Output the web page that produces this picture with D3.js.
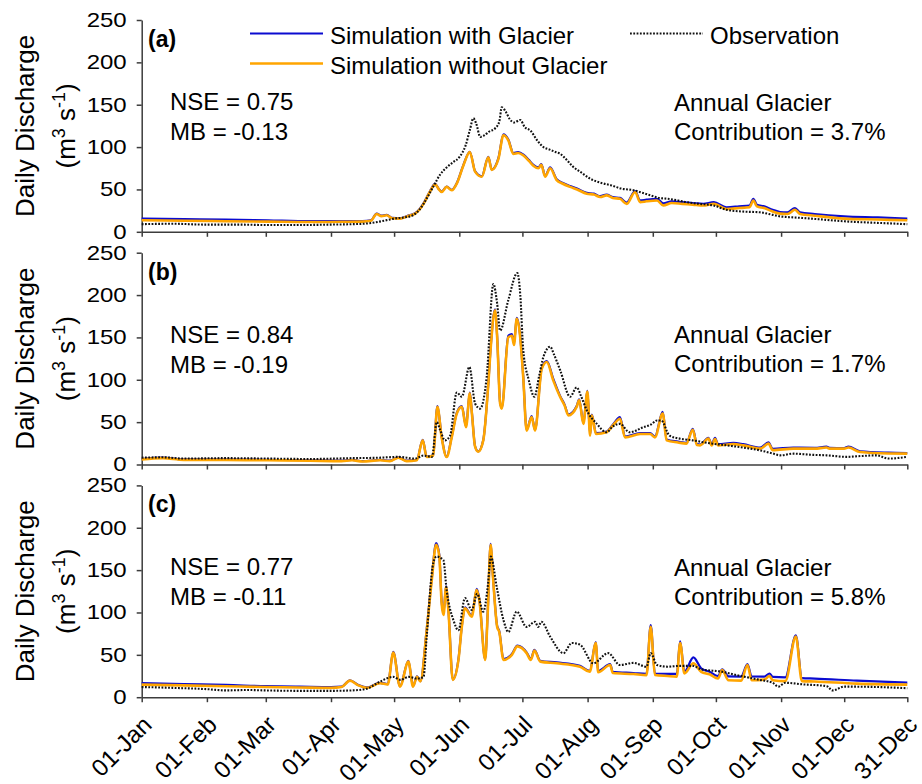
<!DOCTYPE html>
<html>
<head>
<meta charset="utf-8">
<script src="https://cdn.jsdelivr.net/npm/d3@7/dist/d3.min.js"></script>
<style>
body{margin:0;background:#fff}
svg text{font-family:"Liberation Sans",Arial,sans-serif;fill:#000}
</style>
</head>
<body>
<svg id="chart" width="922" height="784"></svg>
<script>
// x = day of year (0 = 01-Jan), y = discharge m3/s
const monthDays=[0,31,59,90,120,151,181,212,243,273,304,334,364]
const monthLabels=['01-Jan','01-Feb','01-Mar','01-Apr','01-May','01-Jun','01-Jul','01-Aug','01-Sep','01-Oct','01-Nov','01-Dec','31-Dec']
const yTicks=[0,50,100,150,200,250]

const panelLabels=['(a)','(b)','(c)']
const nseLabels=['NSE = 0.75','NSE = 0.84','NSE = 0.77']
const mbLabels=['MB = -0.13','MB = -0.19','MB = -0.11']
const contribLabels=['Contribution = 3.7%','Contribution = 1.7%','Contribution = 5.8%']

// panel (a)
const obsA=[[0,9],[15,9.5],[30,8.5],[45,8.5],[60,8],[75,8],[90,8.5],[100,9],[108,10],[113,12],[117,14],[120,15.6],[125,17],[129,19.5],[132,26],[134,33],[137,46],[139,55],[142,68],[145,76],[148,82],[151,88],[154,102],[156,120],[157.7,134],[159,128],[161,112],[163,114],[165,118],[168,122],[170,130],[171.2,147],[173,142],[175,133],[177,129],[180,132],[182,124],[185,119],[188,108],[191,100],[194,97],[197,94],[199,92],[202,85],[205,77],[209,70],[213,63],[218,58],[223,55],[228,51],[234,49],[238,46],[242,43],[246,40],[250,39],[255,37],[259,35],[265,33],[272,31],[278,26],[285,24],[294,23],[300,20],[304,18],[310,17],[318,15.6],[326,14],[334,12.4],[345,11],[355,10],[364,9]]
const simNoGlacierA=[[0,13.6],[20,13],[40,12.5],[60,12],[80,11.5],[95,11.8],[105,12],[109,13],[111.7,21],[114,18.5],[116.5,19.5],[119,16],[123,15.6],[127,19],[130,21.5],[132,26],[134,33],[137,47],[139.5,56],[141,51],[142.6,47],[145,53],[147.4,49],[150,58],[152.9,78],[156,94],[158.5,71],[161.7,65],[164.8,88],[166.4,73],[169.6,86],[172,114],[174.3,108],[176.7,92],[179,93],[181.5,90],[184,84],[186.2,78],[188.6,75],[190,79],[191.8,65],[194.2,75],[197.3,61],[200,57],[203.7,53],[207,50],[211.6,45],[215,44],[218,41],[221,43],[224,40],[227.4,39],[230.6,33],[234.6,47],[237,35],[240,36],[245,37],[248,31],[252,34],[257,33],[262,32],[267,31],[272,33],[278,27],[284,28],[289,29],[290.8,37],[292.5,30],[296,28],[300,24],[303.5,21.5],[307,21],[310.6,26],[313,21],[320,19],[334,15.6],[350,14.5],[364,13.6]]
const simGlacierA=[[0,15.6],[20,15],[40,14.5],[60,13.5],[80,12.5],[95,12.5],[105,12.5],[109,13.5],[111.7,21.5],[114,19],[116.5,20],[119,16.5],[123,16],[127,19.5],[130,22],[132,26.5],[134,33.5],[137,47.5],[139.5,56.5],[141,51.5],[142.6,47.5],[145,53.5],[147.4,49.5],[150,58.5],[152.9,78.5],[156,94.5],[158.5,71.5],[161.7,65.5],[164.8,88.5],[166.4,73.5],[169.6,87],[172,115],[174.3,109],[176.7,93],[179,94],[181.5,91],[184,85],[186.2,79],[188.6,76],[190,80],[191.8,66],[194.2,76],[197.3,62],[200,58],[203.7,54],[207,51],[211.6,46],[215,45],[218,42],[221,44],[224,41],[227.4,40],[230.6,34.5],[234.6,48],[237,37],[240,38],[245,39],[248,33.5],[252,36],[257,35],[262,34],[267,33],[272,35],[278,29],[284,30],[289,31],[290.8,39],[292.5,32],[296,30],[300,26],[303.5,23.4],[307,23],[310.6,28],[313,23],[320,21],[334,18.3],[350,17],[364,15.6]]

// panel (b)
const obsB=[[0,8],[10,8.5],[20,7],[40,7.5],[60,7],[80,6.5],[100,7.5],[113,8],[122,9],[130,7],[134,10.6],[138,9],[140.3,50],[142,40],[144.2,28.5],[146.6,34],[149.8,85],[152.2,80],[155.8,115],[158.5,72],[160.9,66],[164,103],[167.2,213],[169,190],[170.4,158],[174.3,194],[178.6,226],[180,200],[181.4,135],[184,100],[186.7,80],[189,105],[191,127],[194.2,139],[196,130],[199,111],[203.7,80],[206.8,91],[209,80],[211.6,64],[216.4,48],[221,38],[224,45],[227.4,48],[232,38],[238.5,44],[242,47],[245,52],[247,52],[251,34],[256,30.5],[262,28.5],[270,25],[278,22.6],[286,20],[294,16.7],[300,13],[303.5,10.8],[310,12.8],[318,11.5],[325.6,10.8],[335,9],[342,10],[349.5,10.8],[355,7],[364,9]]
const simNoGlacierB=[[0,6],[10,7.5],[20,5.5],[40,5.5],[60,5],[80,4.5],[95,4],[100,5],[105,3.5],[113.3,5],[118,4],[122,8],[126,4],[130.8,5],[133.6,28.5],[135.5,8.8],[138.6,10.6],[140.6,68],[142.6,32],[145,8.8],[147.4,32],[149.8,60],[152.2,68],[154.2,44],[156,84],[157,60],[158.5,21],[160,15],[162.4,28.5],[164.8,95],[166,140],[168,182],[169,150],[170.4,72],[171.2,66],[174.3,150],[176,152],[177,141],[178.3,172],[179.8,154],[181.4,103],[183,40],[185.4,56],[187,40],[190.2,113],[192.6,121],[195.7,99],[198.9,80],[201,70],[202.9,58],[206.8,68],[208,76],[210,48],[211.9,86],[213.2,34],[214,58],[216,36],[221,38],[224,46],[227.4,54],[229.8,32],[237,36],[241.7,36],[244,32],[247.7,60],[249.6,28.5],[255,26],[259,24.6],[262,41],[264,23],[265.5,22.6],[269.4,30.5],[271,22.6],[272.6,30],[274,22.6],[281.3,24],[286,22.6],[294,18.7],[298,24.6],[300,17],[309.8,18.7],[320,18.7],[325.6,20],[327,18.7],[334,18.7],[336,20],[341.6,14.7],[355,13],[364,12.8]]
const simGlacierB=[[0,6.5],[10,8],[20,6],[40,6],[60,5.5],[80,5],[95,4.5],[100,5.5],[105,4],[113.3,5.5],[118,4.5],[122,8.5],[126,4.5],[130.8,5.5],[133.6,29],[135.5,9.3],[138.6,11],[140.6,69],[142.6,33],[145,9.3],[147.4,33],[149.8,61],[152.2,69],[154.2,45],[156,85],[157,61],[158.5,21.5],[160,15.5],[162.4,29],[164.8,96],[166,141],[168,183],[169,151],[170.4,73],[171.2,67],[174.3,152],[176,154],[177,143],[178.3,173],[179.8,155],[181.4,104],[183,41],[185.4,57],[187,41],[190.2,114],[192.6,122],[195.7,101],[198.9,81],[201,71],[202.9,59],[206.8,69],[208,77],[210,49],[211.9,87],[213.2,35],[214,59],[216,37],[221,39],[224,47],[227.4,56],[229.8,33],[237,37],[241.7,37],[244,33],[247.7,62],[249.6,29.5],[255,27],[259,25.5],[262,42],[264,24],[265.5,23.5],[269.4,31.5],[271,24],[272.6,31.5],[274,24],[281.3,25.5],[286,24],[294,20],[298,26],[300,18.5],[309.8,20],[320,19.8],[325.6,21],[327,19.8],[334,19.5],[336,21],[341.6,15.5],[355,14],[364,13.6]]

// panel (c)
const obsC=[[0,12],[15,11],[31,9.5],[40,8],[50,8.5],[59,8],[75,7.5],[90,7.5],[100,8],[107,10],[113.3,18.4],[119.6,24],[123,20.5],[127,24],[131,22],[134,24],[135.5,71.5],[138.6,158],[140.2,166],[143.4,162],[145,126],[148.2,91],[150.6,79],[153.7,117],[156.9,103],[159.5,122],[162.4,101],[164.5,130],[166,166],[168.8,130],[172,91],[174.3,77],[178.3,101],[183,83],[187,89],[188.5,83],[190,89],[194.2,71.5],[200.5,52],[204.5,64],[208.4,62],[214.7,40],[221.8,52],[227.4,38],[233.8,40.5],[240,36],[242,52],[245,38],[250,36],[256,37],[262,37],[266,33],[276,30],[283,26],[294,20.4],[300,17],[302.7,12.5],[306,17],[315,15],[322,14],[325.7,13],[328.5,8],[334,12.5],[350,12],[364,10.6]]
const simNoGlacierC=[[0,14.9],[20,14],[40,13],[59,12],[75,11.5],[90,11],[95,12],[99,19.6],[103,14],[107,11],[113.3,16.5],[117,15],[119.6,52.6],[122.8,12.5],[126.8,42],[129,12.5],[130.9,24],[132.5,18.7],[135.5,79],[137.9,138],[140,180],[141.5,166],[142.6,111],[143.5,97],[144.7,130],[145.8,103],[147.9,20.4],[150.6,44],[152.2,83],[153.7,105],[156.9,95],[159.3,126.5],[160.5,115],[163.3,44],[164.5,99],[165.9,180],[167,142],[169,83],[170,77],[172,44],[176,50],[178.6,60],[183,52],[185,44],[186.7,55],[189.5,42],[197.3,40],[208.4,36],[213,30],[215.9,64],[217,29.5],[222.7,38],[224,28.5],[233.8,27.3],[240,26],[242,83],[244,26.3],[250,25],[254.4,24.3],[256,64],[258,28],[262.3,40],[266,30],[270,27],[274,22],[276,32],[279,20],[285,19.6],[288,38],[290,20],[296,20.8],[298.5,25],[300,20],[306,19],[311,71.5],[313.9,19],[320,18.5],[340,16],[364,14.9]]
const simGlacierC=[[0,16.7],[20,15.5],[40,14.5],[59,13],[75,12.5],[90,12],[95,12.5],[99,20],[103,14.5],[107,11.5],[113.3,17],[117,15.5],[119.6,53.5],[122.8,13],[126.8,43],[129,13],[130.9,24.5],[132.5,19],[135.5,80],[137.9,140],[140,182],[141.5,168],[142.6,113],[143.5,99],[144.7,131],[145.8,104],[147.9,21],[150.6,45],[152.2,84],[153.7,106],[156.9,96],[159.3,128],[160.5,116],[163.3,45],[164.5,100],[165.9,181],[167,143],[169,84],[170,78],[172,45],[176,51],[178.6,61],[183,53],[185,45],[186.7,56],[189.5,43],[197.3,41],[208.4,37],[213,31],[215.9,65],[217,31],[222.7,39],[224,30],[233.8,28.5],[240,27.5],[242,85],[244,28],[250,27.5],[254.4,27.5],[256,66],[258,30],[262.3,47],[266,34],[270,30],[274,25],[276,33],[279,24.5],[285,24.4],[288,39],[290,24.5],[296,24.3],[298.5,28],[300,24],[306,23.5],[311,73],[313.9,22.5],[320,22],[340,19.5],[364,17.2]]

const panels=[
  {glacier:simGlacierA,noGlacier:simNoGlacierA,obs:obsA},
  {glacier:simGlacierB,noGlacier:simNoGlacierB,obs:obsB},
  {glacier:simGlacierC,noGlacier:simNoGlacierC,obs:obsC}
]

const blue='#0b0bd0',orange='#ffa500',axisColor='#3c3c3c'
const obsDash='1.8,1.5'
const svg=d3.select('#chart')
const x=d3.scaleLinear().domain([0,364]).range([141.7,907.3])
const panelH=211.8

panels.forEach((p,i)=>{
  const top=20+i*232.7
  const y=d3.scaleLinear().domain([0,250]).range([top+panelH,top])
  const g=svg.append('g').attr('class','panel')

  const ya=g.append('g')
    .attr('transform',`translate(${x(0)},0)`)
    .call(d3.axisLeft(y).tickValues(yTicks).tickSize(5).tickSizeOuter(0).tickPadding(10))
  const xa=g.append('g')
    .attr('transform',`translate(0,${y(0)})`)
    .call(d3.axisBottom(x).tickValues(monthDays).tickSize(5).tickSizeOuter(0)
      .tickFormat((d,k)=>i===2?monthLabels[k]:''))
  ;[ya,xa].forEach(a=>{
    a.attr('font-size',24).attr('font-family','"Liberation Sans",Arial,sans-serif')
    a.selectAll('path,line').attr('stroke',axisColor).attr('stroke-width',1.5)
    a.selectAll('text').attr('fill','#000')
  })
  // y tick digits are wide and short in the original figure
  ya.selectAll('text')
    .attr('font-size',20)
    .attr('x',-15/1.2)
    .attr('transform','scale(1.2,1)')
  xa.selectAll('text')
    .attr('x',0).attr('y',0).attr('dy',0)
    .attr('text-anchor','end')
    .attr('transform','translate(11,29) rotate(-45)')

  const line=d3.line().x(d=>x(d[0])).y(d=>y(d[1])).curve(d3.curveMonotoneX)
  g.append('path').datum(p.glacier).attr('d',line)
    .attr('fill','none').attr('stroke',blue).attr('stroke-width',2.2)
  g.append('path').datum(p.noGlacier).attr('d',line)
    .attr('fill','none').attr('stroke',orange).attr('stroke-width',2.6)
  g.append('path').datum(p.obs).attr('d',line)
    .attr('fill','none').attr('stroke','#111').attr('stroke-width',2.1)
    .attr('stroke-dasharray',obsDash)

  // y label
  const cy=top+panelH/2
  g.append('text').attr('transform',`translate(33.5,${cy}) rotate(-90)`)
    .attr('text-anchor','middle').attr('font-size',26).text('Daily Discharge')
  const unit=g.append('text').attr('transform',`translate(75,${cy}) rotate(-90)`)
    .attr('text-anchor','middle').attr('font-size',26)
  unit.append('tspan').text('(m')
  unit.append('tspan').attr('baseline-shift','super').attr('font-size',18).text('3')
  unit.append('tspan').text(' s')
  unit.append('tspan').attr('baseline-shift','super').attr('font-size',18).text('-1')
  unit.append('tspan').text(')')

  g.append('text').attr('x',148).attr('y',top+27).attr('font-size',23)
    .attr('font-weight','bold').text(panelLabels[i])
  g.append('text').attr('x',170).attr('y',top+90).attr('font-size',24).text(nseLabels[i])
  g.append('text').attr('x',170).attr('y',top+120).attr('font-size',24).text(mbLabels[i])
  g.append('text').attr('x',674).attr('y',top+90.5).attr('font-size',24).text('Annual Glacier')
  g.append('text').attr('x',674).attr('y',top+119.5).attr('font-size',24).text(contribLabels[i])
})

// legend
const legend=[
  {name:'Simulation with Glacier',color:blue,w:2.2,dash:null,lx:250,ly:33.5},
  {name:'Simulation without Glacier',color:orange,w:2.6,dash:null,lx:250,ly:63.5},
  {name:'Observation',color:'#111',w:2.1,dash:obsDash,lx:630,ly:33.5}
]
const lg=svg.append('g').attr('class','legend')
legend.forEach(l=>{
  lg.append('line').attr('x1',l.lx).attr('x2',l.lx+73).attr('y1',l.ly).attr('y2',l.ly)
    .attr('stroke',l.color).attr('stroke-width',l.w).attr('stroke-dasharray',l.dash)
  lg.append('text').attr('x',l.lx+80).attr('y',l.ly+10.5).attr('font-size',24).text(l.name)
})
</script>
</body>
</html>
